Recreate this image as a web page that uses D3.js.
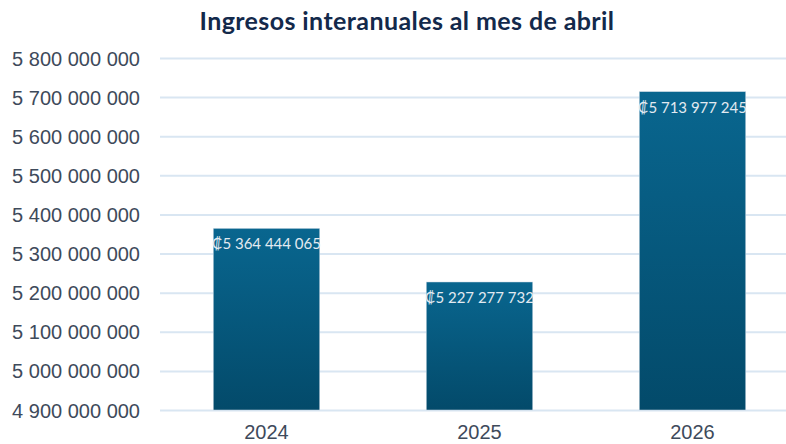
<!DOCTYPE html>
<html>
<head>
    <meta charset="utf-8">
    <title>Ingresos interanuales</title>
    <style>
        body { margin: 0; background: #fff; }
        svg { font-family: Lato, 'Open Sans', sans-serif; }
        .grid line { stroke: #d9e6f2; stroke-width: 2; }
        .grid .domain { display: none; }
        .yaxis text { fill: #3e4a5b; font-size: 20px; }
        .xaxis text { fill: #3e4a5b; font-size: 20px; }
    </style>
</head>
<body>
    <figure style="margin:0"></figure>

    <script src="https://d3js.org/d3.v7.min.js"></script>
    <script>
        // data
        const years = ['2024', '2025', '2026']
        const ingresos = [5364444065, 5227277732, 5713977245]
        const yTicks = [4900000000, 5000000000, 5100000000, 5200000000, 5300000000,
            5400000000, 5500000000, 5600000000, 5700000000, 5800000000]

        const width = 786, height = 444
        const margin = { left: 160, right: -13, top: 58, bottom: 34 }

        const svg = d3.select('figure').append('svg')
            .attr('width', width)
            .attr('height', height)

        // gradient for the bars
        const grad = svg.append('defs').append('linearGradient')
            .attr('id', 'barGrad')
            .attr('x1', 0).attr('y1', 0).attr('x2', 0).attr('y2', 1)
        grad.append('stop').attr('offset', '0%').attr('stop-color', '#09668f')
        grad.append('stop').attr('offset', '100%').attr('stop-color', '#034a6a')

        const x = d3.scaleBand()
            .domain(years)
            .range([margin.left, width - margin.right])
            .paddingInner(0.5)
            .paddingOuter(0.25)

        const y = d3.scaleLinear()
            .domain([4900000000, 5800000000])
            .range([height - margin.bottom, margin.top])

        const fmt = v => d3.format(',')(v).replace(/,/g, ' ')

        // gridlines
        svg.append('g')
            .attr('class', 'grid')
            .attr('transform', `translate(${margin.left},0)`)
            .call(d3.axisRight(y).tickValues(yTicks).tickSize(width - margin.left + 20).tickFormat(''))

        // y labels
        svg.append('g')
            .attr('class', 'yaxis')
            .attr('transform', `translate(${margin.left - 20},0)`)
            .call(d3.axisLeft(y).tickValues(yTicks).tickSize(0).tickPadding(0).tickFormat(fmt))
            .call(g => g.select('.domain').remove())
            .selectAll('text').attr('dy', '0.35em')

        // bars
        svg.selectAll('.bar')
            .data(years)
            .enter()
            .append('rect')
            .attr('class', 'bar')
            .attr('x', d => x(d))
            .attr('width', x.bandwidth())
            .attr('y', (d, i) => y(ingresos[i]))
            .attr('height', (d, i) => y(4900000000) - y(ingresos[i]))
            .style('fill', 'url(#barGrad)')
            .style('stroke', '#cfdbe6')
            .style('stroke-width', 0.5)

        // value labels
        svg.selectAll('.lbl')
            .data(years)
            .enter()
            .append('text')
            .attr('class', 'lbl')
            .attr('x', d => x(d) + x.bandwidth() / 2)
            .attr('y', (d, i) => y(ingresos[i]) + 21)
            .attr('text-anchor', 'middle')
            .style('fill', '#e2eaf1')
            .style('font-size', '15px')
            .text((d, i) => '₡' + fmt(ingresos[i]))

        // x labels
        svg.append('g')
            .attr('class', 'xaxis')
            .attr('transform', `translate(0,${height - margin.bottom})`)
            .call(d3.axisBottom(x).tickSize(0).tickPadding(15))
            .call(g => g.select('.domain').remove())

        // title
        svg.append('text')
            .attr('x', 407)
            .attr('y', 30)
            .attr('text-anchor', 'middle')
            .style('font-size', '25px')
            .style('font-weight', 700)
            .style('letter-spacing', '0.4px')
            .style('fill', '#13294b')
            .text('Ingresos interanuales al mes de abril')
    </script>
</body>
</html>
